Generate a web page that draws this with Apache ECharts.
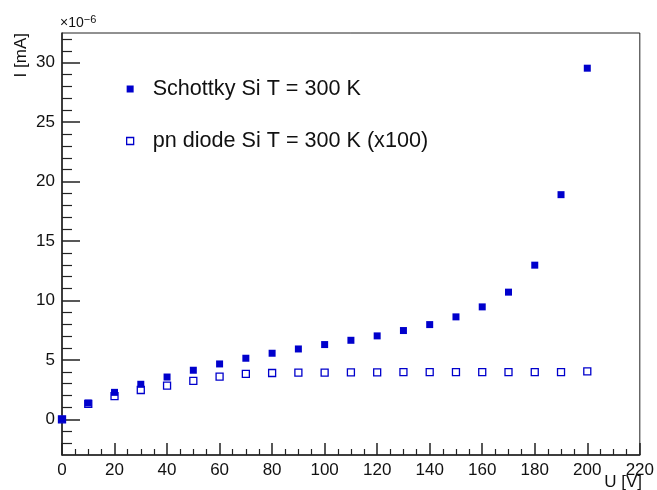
<!DOCTYPE html>
<html>
<head>
<meta charset="utf-8">
<script src="https://cdn.jsdelivr.net/npm/echarts@6/dist/echarts.min.js"></script>
<style>
  html, body { margin: 0; padding: 0; background: #fff; }
  #chart { width: 657px; height: 490px; }
</style>
</head>
<body>
<div id="chart"></div>
<script>
// bias voltage U [V]
var voltages = [0, 10, 20, 30, 40, 50, 60, 70, 80, 90, 100, 110, 120, 130, 140, 150, 160, 170, 180, 190, 200];

// current I [mA] in units of 1e-6
var schottky = [0, 1.37, 2.27, 2.95, 3.56, 4.13, 4.66, 5.14, 5.56, 5.92, 6.29, 6.65, 7.02, 7.47, 7.97, 8.62, 9.46, 10.7, 12.97, 18.9, 29.54];
var pnDiode = [0, 1.3, 1.96, 2.47, 2.83, 3.23, 3.59, 3.82, 3.9, 3.93, 3.93, 3.95, 3.95, 3.97, 3.97, 3.97, 3.97, 3.97, 3.97, 3.97, 4.03];

var yMajorTicks = [0, 5, 10, 15, 20, 25, 30];
var yMinorTicks = [-2, -1, 1, 2, 3, 4, 6, 7, 8, 9, 11, 12, 13, 14, 16, 17, 18, 19, 21, 22, 23, 24, 26, 27, 28, 29, 31, 32];

var nameSchottky = 'Schottky Si T = 300 K';
var namePn = 'pn diode Si T = 300 K (x100)';

var blue = '#0000cc';
var ink = '#111';
var font = 'Liberation Sans, Arial, Helvetica, sans-serif';

function pairs(xs, ys) {
  var out = [];
  for (var i = 0; i < xs.length; i++) out.push([xs[i], ys[i]]);
  return out;
}

var chart = echarts.init(document.getElementById('chart'));

var option = {
  animation: false,
  backgroundColor: '#fff',
  textStyle: { fontFamily: font },
  grid: {
    left: 62, right: 15, top: 33, bottom: 35,
    show: true, borderColor: '#222', borderWidth: 1, backgroundColor: 'transparent'
  },
  xAxis: {
    type: 'value',
    min: 0, max: 220, interval: 20,
    axisLine: { show: true, onZero: false, lineStyle: { color: '#222', width: 1.5 } },
    axisTick: { show: true, inside: true, length: 12, lineStyle: { color: '#222', width: 1.5 } },
    minorTick: { show: true, splitNumber: 4, length: 6, lineStyle: { color: '#222', width: 1.2 } },
    axisLabel: { color: ink, fontSize: 17, margin: 7, fontFamily: font },
    splitLine: { show: false }
  },
  yAxis: [{
    type: 'value',
    min: -3, max: 32.5,
    axisLine: { show: true, onZero: false, lineStyle: { color: '#222', width: 1.5 } },
    axisTick: { show: true, inside: true, length: 18, customValues: yMajorTicks, lineStyle: { color: '#222', width: 1.5 } },
    axisLabel: { color: ink, fontSize: 17, margin: 7, fontFamily: font, customValues: yMajorTicks },
    splitLine: { show: false }
  }, {
    type: 'value',
    position: 'left',
    min: -3, max: 32.5,
    axisLine: { show: false },
    axisTick: { show: true, inside: true, length: 10, customValues: yMinorTicks, lineStyle: { color: '#222', width: 1.2 } },
    axisLabel: { show: false },
    splitLine: { show: false }
  }],
  legend: {
    orient: 'vertical',
    left: 121, top: 73,
    itemWidth: 7, itemHeight: 7,
    itemGap: 30,
    icon: 'rect',
    data: [
      { name: nameSchottky, itemStyle: { color: blue, borderWidth: 0 } },
      { name: namePn, itemStyle: { color: '#fff', borderColor: blue, borderWidth: 1.3 } }
    ],
    textStyle: { color: ink, fontSize: 21.6, fontFamily: font, padding: [0, 0, 0, 14] }
  },
  graphic: [
    {
      type: 'text', left: 60, top: 14,
      style: {
        text: '×10{s|−6}',
        fontSize: 14, fontFamily: font, fill: ink,
        rich: { s: { fontSize: 11, fontFamily: font, fill: ink, verticalAlign: 'top', padding: [0, 0, 8, 0] } }
      }
    },
    {
      type: 'text', x: 13, y: 33, rotation: Math.PI / 2,
      style: { text: 'I [mA]', fontSize: 17, fontFamily: font, fill: ink, align: 'right', verticalAlign: 'top' }
    },
    {
      type: 'text', right: 15, top: 474,
      style: { text: 'U [V]', fontSize: 17, fontFamily: font, fill: ink }
    }
  ],
  series: [
    {
      name: namePn,
      type: 'scatter',
      symbol: 'rect',
      symbolSize: 7,
      itemStyle: { color: '#fff', borderColor: blue, borderWidth: 1.3, opacity: 1 },
      data: pairs(voltages, pnDiode)
    },
    {
      name: nameSchottky,
      type: 'scatter',
      symbol: 'rect',
      symbolSize: 7,
      itemStyle: { color: blue, opacity: 1 },
      data: pairs(voltages, schottky)
    }
  ]
};

chart.setOption(option);
</script>
</body>
</html>
